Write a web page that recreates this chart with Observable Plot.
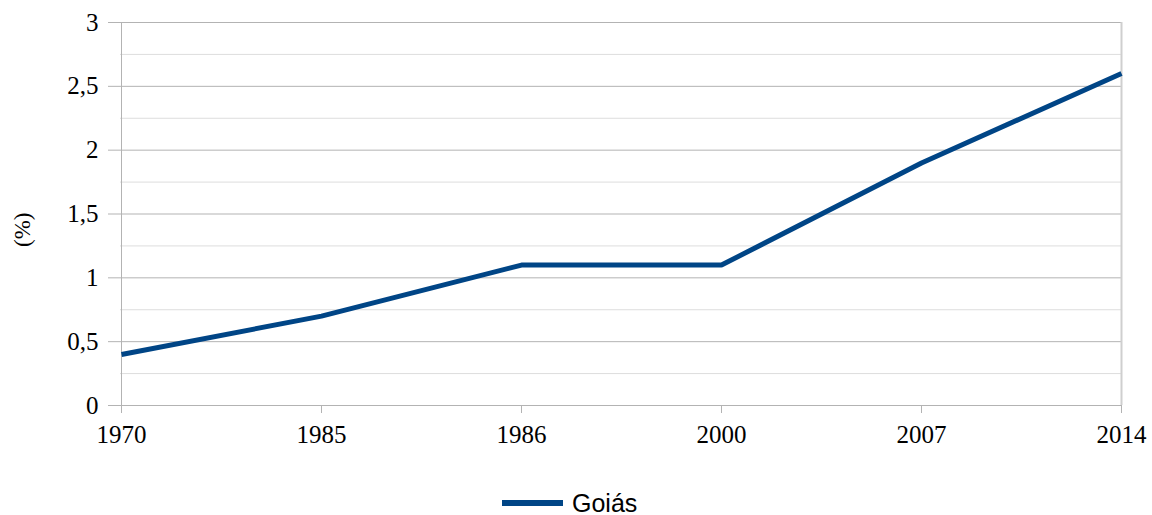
<!DOCTYPE html>
<html>
<head>
<meta charset="utf-8">
<script src="https://cdn.jsdelivr.net/npm/d3@7"></script>
<script src="https://cdn.jsdelivr.net/npm/@observablehq/plot@0.6"></script>
<style>
  html, body { margin: 0; padding: 0; background: #fff; }
  #chart { width: 1152px; height: 470px; }
  #chart svg g[aria-label="y-axis tick label"] text,
  #chart svg g[aria-label="x-axis tick label"] text { font-size: 25px; fill: #000; }
  #legend { display: flex; align-items: center; justify-content: flex-start; height: 66px; padding-left: 502px;
    font-family: "Liberation Sans", Arial, sans-serif; font-size: 25px; color: #000; }
  #legend .sw { width: 61px; height: 6px; background: #004586; margin-right: 9px; }
</style>
</head>
<body>
<div id="chart"></div>
<script>
const years = ["1970", "1985", "1986", "2000", "2007", "2014"];
const values = [0.4, 0.7, 1.1, 1.1, 1.9, 2.6];
const yTicks = [0, 0.5, 1, 1.5, 2, 2.5, 3];
const yMinor = [0.25, 0.75, 1.25, 1.75, 2.25, 2.75];
const seriesName = "Goiás";
const yLabel = "(%)";

const data = years.map((y, i) => ({year: y, value: values[i]}));
const fmt = d => String(d).replace(".", ",");

const plot = Plot.plot({
  width: 1152,
  height: 470,
  marginLeft: 120,
  marginRight: 30,
  marginTop: 22,
  marginBottom: 65,
  style: {fontFamily: "'Liberation Serif', 'Times New Roman', serif", fontSize: "22px", color: "#000", background: "#fff"},
  x: {type: "point", domain: years, padding: 0},
  y: {domain: [0, 3]},
  marks: [
    Plot.ruleY(yMinor, {stroke: "#dddddd", strokeWidth: 1}),
    Plot.ruleY(yTicks, {stroke: "#b3b3b3", strokeWidth: 1}),
    Plot.ruleX([years[years.length - 1]], {stroke: "#cfcfcf", strokeWidth: 2}),
    Plot.ruleX([years[0]], {stroke: "#b3b3b3", strokeWidth: 1}),
    Plot.axisY({ticks: yTicks, tickFormat: fmt, tickSize: 12, tickPadding: 10, stroke: "#b3b3b3", label: null}),
    Plot.axisX({ticks: years, tickSize: 8, tickPadding: 12, stroke: "#b3b3b3", label: null}),
    Plot.text([yLabel], {frameAnchor: "left", dx: -98, dy: 33, rotate: -90, fontSize: 23, fill: "#000", text: d => d}),
    Plot.line(data, {x: "year", y: "value", stroke: "#004586", strokeWidth: 5, strokeLinejoin: "miter", strokeLinecap: "butt"})
  ]
});
document.getElementById("chart").appendChild(plot);
const leg = document.createElement("div");
leg.id = "legend";
leg.innerHTML = `<div class="sw"></div><span></span>`;
leg.querySelector("span").textContent = seriesName;
document.body.appendChild(leg);
</script>
</body>
</html>
